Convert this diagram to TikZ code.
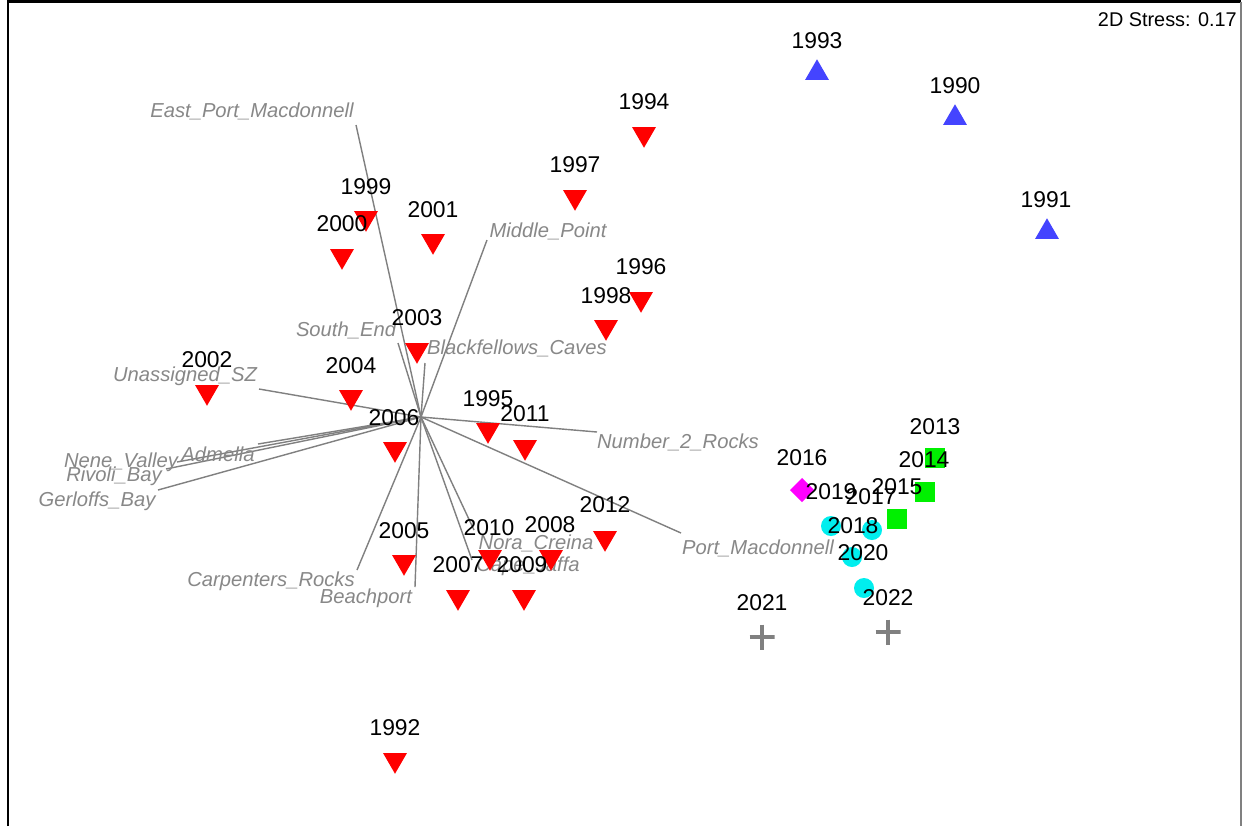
\documentclass[tikz,border=0pt]{standalone}
\usepackage{fontspec}
\setmainfont{Liberation Sans}
\usetikzlibrary{shapes.geometric}
\definecolor{mred}{RGB}{255,0,0}
\definecolor{mblue}{RGB}{68,68,255}
\definecolor{mgreen}{RGB}{0,240,0}
\definecolor{mmag}{RGB}{255,0,255}
\definecolor{mcyan}{RGB}{0,238,238}
\definecolor{vgray}{RGB}{128,128,128}
\definecolor{lgray}{RGB}{136,136,136}
\tikzset{
  x=0.2mm, y=-0.2mm,
  yr/.style={font=\fontsize{13}{15}\selectfont, text=black, inner sep=0pt},
  vl/.style={font=\fontsize{11.5}{13}\selectfont\itshape, text=lgray, inner sep=0pt},
  vec/.style={draw=vgray, line width=0.8pt},
  downtri/.style={regular polygon, regular polygon sides=3, shape border rotate=180, fill=mred, minimum size=5.5mm, inner sep=0pt},
  uptri/.style={regular polygon, regular polygon sides=3, fill=mblue, minimum size=5.5mm, inner sep=0pt},
  sqmark/.style={rectangle, fill=mgreen, minimum size=4mm, inner sep=0pt},
  circmark/.style={circle, fill=mcyan, minimum size=4mm, inner sep=0pt},
  diamark/.style={rectangle, rotate=45, fill=mmag, minimum size=3.4mm, inner sep=0pt},
  plusmark/.style={rectangle, minimum size=5mm, inner sep=0pt,
    path picture={\draw[vgray, line width=1.8pt]
      (path picture bounding box.west) -- (path picture bounding box.east)
      (path picture bounding box.north) -- (path picture bounding box.south);}},
}
\begin{document}
\begin{tikzpicture}
\useasboundingbox (0,0) rectangle (1246,826);
\fill[white] (0,0) rectangle (1246,826);
% frame
\draw[black, line width=1.3pt] (8,826) -- (8,1.5) -- (1241,1.5);
\draw[vgray, line width=0.9pt] (1241,1.5) -- (1241,826);
\node[font=\fontsize{11.3}{13}\selectfont, anchor=east, inner sep=0pt] (stress) at (1237,20) {2D Stress: 0.17};

% vectors
\coordinate (O) at (421,417);
\coordinate (eEPM) at (356,125);
\coordinate (eMP) at (487,240);
\coordinate (eSE) at (398,343);
\coordinate (eBC) at (425,363);
\coordinate (eUSZ) at (259,389);
\coordinate (eAD) at (258,444);
\coordinate (eNV) at (177,462);
\coordinate (eRB) at (166,469);
\coordinate (eGB) at (158,490);
\coordinate (eN2R) at (597,432);
\coordinate (ePM) at (681,533);
\coordinate (eCR) at (357,570);
\coordinate (eBP) at (415,587);
\coordinate (eNC) at (474,530);
\coordinate (eCJ) at (472,560);
\foreach \e in {eEPM,eMP,eSE,eBC,eUSZ,eAD,eNV,eRB,eGB,eN2R,ePM,eCR,eBP,eNC,eCJ}
  \draw[vec] (O) -- (\e);

\node[vl] (tEPM) at (252,111) {East\_Port\_Macdonnell};
\node[vl] (tMP) at (548,231) {Middle\_Point};
\node[vl] (tSE) at (346,330) {South\_End};
\node[vl] (tBC) at (517,348) {Blackfellows\_Caves};
\node[vl] (tUSZ) at (185,376) {Unassigned\_SZ};
\node[vl] (tAD) at (218,454) {Admella};
\node[vl] (tNV) at (121,462) {Nene\_Valley};
\node[vl] (tRB) at (114,476) {Rivoli\_Bay};
\node[vl] (tGB) at (97,501) {Gerloffs\_Bay};
\node[vl] (tN2R) at (678,442) {Number\_2\_Rocks};
\node[vl] (tPM) at (758,548) {Port\_Macdonnell};
\node[vl] (tCR) at (271,581) {Carpenters\_Rocks};
\node[vl] (tBP) at (366,598) {Beachport};
\node[vl] (tNC) at (536,543) {Nora\_Creina};
\node[vl] (tCJ) at (528,566) {Cape\_Jaffa};

% red down triangles
\foreach \n/\x/\y in {1994/644/134, 1997/575/197, 1999/366/218, 2000/342/256, 2001/433/241,
  1996/641/299, 1998/606/327, 2003/417/350, 2002/207/392, 2004/351/397, 2006/395/449,
  1995/488/430, 2011/525/447, 2012/605/538, 2005/404/562, 2010/490/557, 2008/551/557,
  2007/458/597, 2009/524/597, 1992/395/760}
  \node[downtri] (m\n) at (\x,\y) {};
% blue up triangles
\foreach \n/\x/\y in {1993/817/73, 1990/955/118, 1991/1047/232}
  \node[uptri] (m\n) at (\x,\y) {};
% green squares
\foreach \n/\x/\y in {2013/935/458, 2014/925/492, 2015/897/519}
  \node[sqmark] (m\n) at (\x,\y) {};
% magenta diamond
\node[diamark] (m2016) at (802,490) {};
% cyan circles
\foreach \n/\x/\y in {2019/831/526, 2017/872/530, 2018/852/557, 2020/864/588}
  \node[circmark] (m\n) at (\x,\y) {};
% plus
\node[plusmark] (m2021) at (762,637) {};
\node[plusmark] (m2022) at (888,632) {};

% year labels
\foreach \n/\x/\y in {1994/644/102, 1997/575/165, 1999/366/187, 2000/342/224, 2001/433/210,
  1996/641/267, 1998/606/296, 2003/417/318, 2002/207/360, 2004/351/366, 2006/394/418,
  1995/488/399, 2011/525/414, 2012/605/505, 2005/404/531, 2010/489/528, 2008/550/525,
  2007/458/565, 2009/522/565, 1992/395/728, 1993/817/41, 1990/955/86, 1991/1046/200,
  2013/935/427, 2014/924/460, 2015/897/487, 2016/802/458, 2019/831/492, 2017/871/497,
  2018/853/526, 2020/863/553, 2022/888/598, 2021/762/603}
  \node[yr] (l\n) at (\x,\y) {\n};
\end{tikzpicture}
\end{document}
